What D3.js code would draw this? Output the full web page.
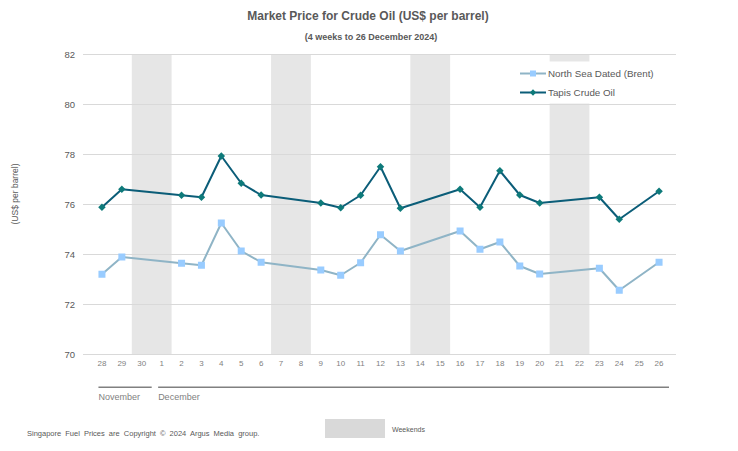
<!DOCTYPE html>
<html>
<head>
<meta charset="utf-8">
<script src="https://cdn.jsdelivr.net/npm/d3@7"></script>
<style>
  html, body { margin: 0; padding: 0; background: #fff; }
  svg { display: block; font-family: "Liberation Sans", Arial, sans-serif; }
</style>
</head>
<body>
<svg id="chart" width="738" height="451"></svg>
<script>
// ---- Data ----
const days = ["28","29","30","1","2","3","4","5","6","7","8","9","10","11","12","13","14","15","16","17","18","19","20","21","22","23","24","25","26"];
const brent = [73.19, 73.88, null, null, 73.63, 73.55, 75.24, 74.12, 73.67, null, null, 73.36, 73.15, 73.65, 74.77, 74.12, null, null, 74.92, 74.19, 74.48, 73.52, 73.20, null, null, 73.43, 72.55, null, 73.67];
const tapis = [75.87, 76.59, null, null, 76.35, 76.27, 77.92, 76.83, 76.36, null, null, 76.04, 75.85, 76.35, 77.49, 75.83, null, null, 76.59, 75.87, 77.33, 76.36, 76.04, null, null, 76.27, 75.39, null, 76.51];
const weekends = [["30","1"], ["7","8"], ["14","15"], ["21","22"]];
const months = [{name: "November", from: "28", to: "30"}, {name: "December", from: "1", to: "26"}];
const yTicks = [70, 72, 74, 76, 78, 80, 82];
const seriesNames = ["North Sea Dated (Brent)", "Tapis Crude Oil"];

// ---- Scales ----
const svg = d3.select("#chart");
const x = d3.scaleBand().domain(days).range([92, 669]).paddingInner(0).paddingOuter(0);
const cx = d => x(d) + x.bandwidth() / 2;
const y = d3.scaleLinear().domain([70, 82]).range([354, 54]);

const textCol = "#595959";
const axisCol = "#7f7f7f";

// Title
svg.append("text").attr("x", 368).attr("y", 20).attr("text-anchor", "middle")
  .attr("font-size", 12).attr("font-weight", "bold").attr("fill", textCol)
  .text("Market Price for Crude Oil (US$ per barrel)");
svg.append("text").attr("x", 371).attr("y", 40).attr("text-anchor", "middle")
  .attr("font-size", 9).attr("font-weight", "bold").attr("fill", textCol)
  .text("(4 weeks to 26 December 2024)");

// Weekend bands
svg.append("g").selectAll("rect").data(weekends).join("rect")
  .attr("x", d => x(d[0]))
  .attr("width", d => x(d[1]) + x.bandwidth() - x(d[0]))
  .attr("y", y(82)).attr("height", y(70) - y(82))
  .attr("fill", "#e6e6e6");

// Gridlines
const yAxis = d3.axisLeft(y).tickValues(yTicks).tickSize(-(676 - 83)).tickPadding(8).tickFormat(d3.format("d"));
const gy = svg.append("g").attr("transform", "translate(83,0)").call(yAxis);
gy.select(".domain").remove();
gy.selectAll(".tick line").attr("stroke", "#d9d9d9").attr("stroke-width", 1);
gy.selectAll(".tick text").attr("fill", textCol).attr("font-size", 9.5)
  .attr("font-family", "Liberation Sans, Arial, sans-serif").attr("x", -8);

// Y axis title
svg.append("text").attr("transform", "translate(18,194) rotate(-90)")
  .attr("text-anchor", "middle").attr("font-size", 8.5).attr("fill", textCol)
  .text("(US$ per barrel)");

// X axis labels
const xAxis = d3.axisBottom(x).tickSize(0).tickPadding(6);
const gx = svg.append("g").attr("transform", "translate(0,354)").call(xAxis);
gx.select(".domain").remove();
gx.selectAll(".tick text").attr("fill", axisCol).attr("font-size", 8)
  .attr("font-family", "Liberation Sans, Arial, sans-serif");

// Month groups
const mg = svg.append("g");
const monthSpans = months.map(m => ({
  name: m.name,
  x0: cx(m.from) - 3.5,
  x1: x(m.to) + x.bandwidth()
}));
mg.selectAll("rect.mline").data(monthSpans).join("rect").attr("class", "mline")
  .attr("x", d => d.x0).attr("width", d => d.x1 - d.x0)
  .attr("y", 386.5).attr("height", 1.5)
  .attr("fill", "#808080");
mg.selectAll("text.mlabel").data(monthSpans).join("text").attr("class", "mlabel")
  .attr("x", d => d.x0).attr("y", 400).attr("font-size", 9).attr("fill", axisCol).text(d => d.name);

// Lines
const line = d3.line().defined(d => d.v != null).x(d => cx(d.day)).y(d => y(d.v));
function toPts(vals) { return days.map((d, i) => ({day: d, v: vals[i]})).filter(p => p.v != null); }
const bPts = toPts(brent), tPts = toPts(tapis);

svg.append("path").datum(bPts).attr("d", line).attr("fill", "none")
  .attr("stroke", "#8fb4c6").attr("stroke-width", 2).attr("stroke-linejoin", "round");
svg.append("g").selectAll("rect").data(bPts).join("rect")
  .attr("x", d => cx(d.day) - 3.5).attr("y", d => y(d.v) - 3.5)
  .attr("width", 7).attr("height", 7).attr("fill", "#99ccff");

svg.append("path").datum(tPts).attr("d", line).attr("fill", "none")
  .attr("stroke", "#0b5d78").attr("stroke-width", 2).attr("stroke-linejoin", "round");
const diamond = d3.symbol().type(d3.symbolSquare).size(28);
svg.append("g").selectAll("path").data(tPts).join("path")
  .attr("transform", d => `translate(${cx(d.day)},${y(d.v)}) rotate(45)`)
  .attr("d", diamond).attr("fill", "#0e7a7a");

// Legend
const lg = svg.append("g");
lg.append("rect").attr("x", 512).attr("y", 61.5).attr("width", 168).attr("height", 42).attr("fill", "#fff");
const legendItems = [
  {name: seriesNames[0], stroke: "#8fb4c6", fill: "#99ccff", sym: "square", yy: 73.5},
  {name: seriesNames[1], stroke: "#0b5d78", fill: "#0e7a7a", sym: "diamond", yy: 92.5}
];
legendItems.forEach(it => {
  lg.append("line").attr("x1", 520).attr("x2", 546).attr("y1", it.yy).attr("y2", it.yy)
    .attr("stroke", it.stroke).attr("stroke-width", 2);
  if (it.sym === "square") {
    lg.append("rect").attr("x", 530).attr("y", it.yy - 3).attr("width", 6).attr("height", 6).attr("fill", it.fill);
  } else {
    lg.append("path").attr("transform", `translate(533,${it.yy}) rotate(45)`)
      .attr("d", d3.symbol().type(d3.symbolSquare).size(20)).attr("fill", it.fill);
  }
  lg.append("text").attr("x", 548).attr("y", it.yy + 3.5).attr("font-size", 9.8).attr("fill", textCol).text(it.name);
});

// Footer
svg.append("text").attr("x", 27).attr("y", 436).attr("font-size", 7.5).attr("fill", textCol)
  .attr("word-spacing", 2)
  .text("Singapore  Fuel Prices are Copyright © 2024 Argus Media group.");
svg.append("rect").attr("x", 325).attr("y", 419).attr("width", 60).attr("height", 19).attr("fill", "#d9d9d9");
svg.append("text").attr("x", 392).attr("y", 432).attr("font-size", 7).attr("fill", textCol).text("Weekends");
</script>
</body>
</html>
